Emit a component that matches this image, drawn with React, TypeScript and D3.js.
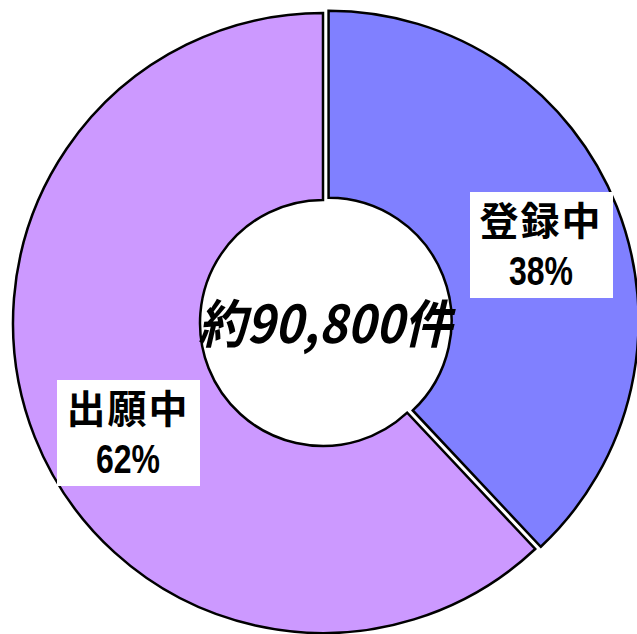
import React from "react";
import * as d3 from "d3";

const categories = ["登録中", "出願中"];
const shares = [38, 62];
const totalLabel = "約90,800件";
const colors = ["#8080FF", "#CC99FF"];

const W = 637;
const H = 634;
const cx = 323;
const cy = 323;
const R = 310;
const r0 = 123;
const explode = [6, 0];
// label box centers (pixel layout)
const labelPos = [
  [541, 245],
  [128, 433],
];

export default function App() {
  const pie = d3
    .pie<number>()
    .sort(null)
    .value((d) => d)
    .startAngle(0)
    .endAngle(2 * Math.PI);
  const arcs = pie(shares);
  const arcGen = d3.arc<d3.PieArcDatum<number>>().innerRadius(r0).outerRadius(R);
  const font = "'Noto Sans CJK JP', 'Noto Sans', sans-serif";
  const numFont = "'Liberation Sans', Arial, sans-serif";

  return (
    <svg
      width={W}
      height={H}
      style={{ position: "absolute", left: 0, top: 0, background: "#fff" }}
    >
      {arcs.map((a, i) => {
        const mid = (a.startAngle + a.endAngle) / 2;
        const dx = Math.sin(mid) * explode[i];
        const dy = -Math.cos(mid) * explode[i];
        return (
          <path
            key={i}
            d={arcGen(a) || ""}
            transform={`translate(${cx + dx},${cy + dy})`}
            fill={colors[i]}
            stroke="#000"
            strokeWidth={2.5}
            strokeLinejoin="miter"
          />
        );
      })}
      {arcs.map((a, i) => {
        const [lx, ly] = labelPos[i];
        return (
          <g key={"l" + i} transform={`translate(${lx},${ly})`}>
            <rect x={-71} y={-53} width={143} height={106} fill="#fff" />
            <text
              x={0}
              y={-10}
              textAnchor="middle"
              fontFamily={font}
              fontWeight="bold"
              fontSize={39}
              letterSpacing={2}
              fill="#000"
            >
              {categories[i]}
            </text>
            <text
              x={0}
              y={40}
              textAnchor="middle"
              fontFamily={numFont}
              fontWeight="bold"
              fontSize={41}
              textLength={64}
              lengthAdjust="spacingAndGlyphs"
              fill="#000"
            >
              {`${shares[i]}%`}
            </text>
          </g>
        );
      })}
      <text
        x={cx + 2}
        y={cy + 20}
        textAnchor="middle"
        fontFamily={font}
        fontWeight="bold"
        fontStyle="italic"
        fontSize={52}
        textLength={254}
        lengthAdjust="spacingAndGlyphs"
        fill="#000"
      >
        {totalLabel}
      </text>
    </svg>
  );
}
